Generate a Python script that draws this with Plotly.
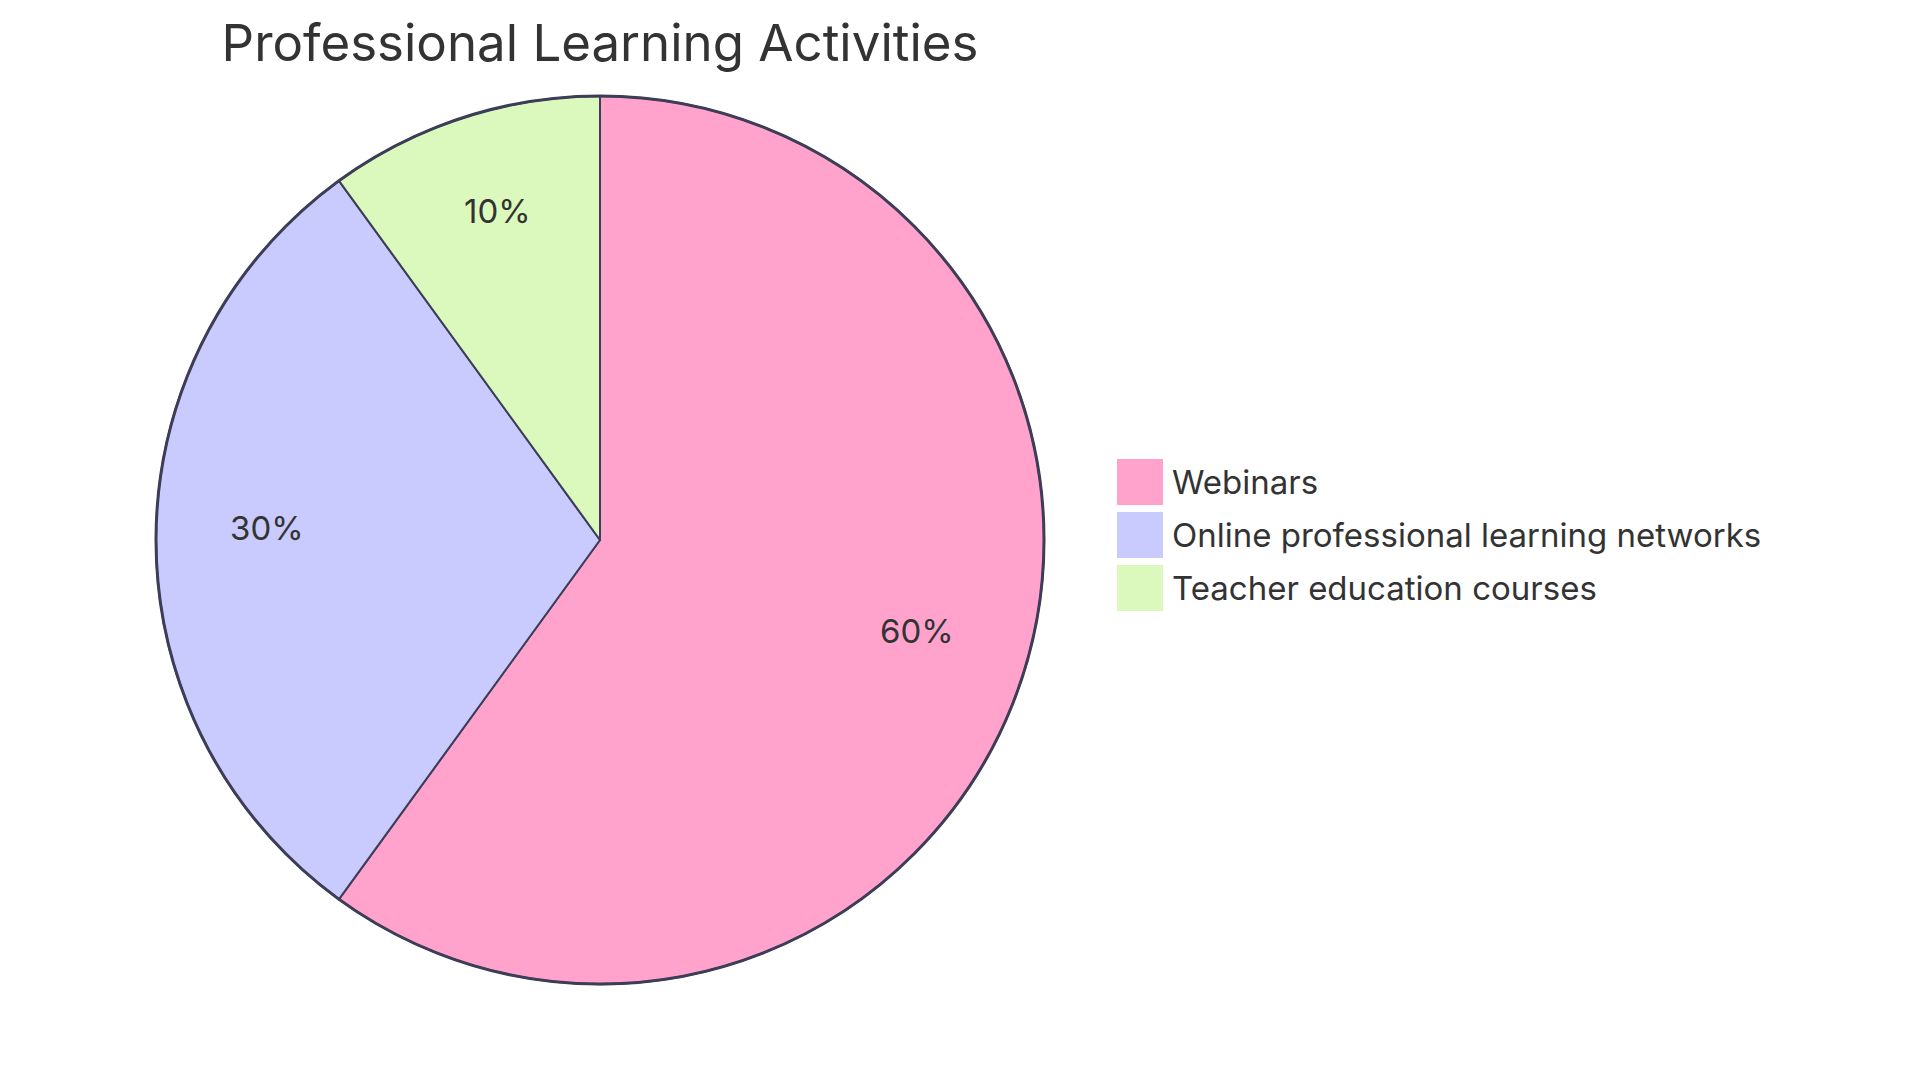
import numpy as np
import plotly.graph_objects as go

# data
labels = ["Webinars", "Online professional learning networks", "Teacher education courses"]
values = [60, 30, 10]
colors = ["#FFA3CD", "#C9CAFE", "#DBF9BC"]

W, H = 1920, 1080
off = 8                                  # page margin of the browser
cx, cy, r = 600 - off, 540 - off, 444    # pie centre / radius in px
stroke = "#3D3D57"
font = "Inter, Roboto, sans-serif"
txt = "#333333"

dom_x = [(cx - r) / W, (cx + r) / W]
dom_y = [(H - cy - r) / H, (H - cy + r) / H]

fig = go.Figure()
fig.add_trace(go.Pie(labels=labels, values=values, sort=False, direction="clockwise",
                     rotation=0, marker=dict(colors=colors, line=dict(color=stroke, width=2)),
                     textinfo="none", hoverinfo="label+percent", showlegend=False,
                     domain=dict(x=dom_x, y=dom_y)))
# outer ring drawn a bit heavier
fig.add_trace(go.Pie(values=[1], labels=[""], sort=False,
                     marker=dict(colors=["rgba(0,0,0,0)"], line=dict(color=stroke, width=3)),
                     textinfo="none", hoverinfo="skip", showlegend=False,
                     domain=dict(x=dom_x, y=dom_y)))

# percentage labels at 0.75 radius on each slice's mid angle (mermaid style)
total = sum(values)
start = 0.0
for v in values:
    mid = np.radians((start + v / 2) / total * 360)
    start += v
    px = cx + 0.75 * r * np.sin(mid)
    py = cy - 0.75 * r * np.cos(mid)
    fig.add_annotation(x=px / W, y=1 - py / H, xref="paper", yref="paper",
                       text=f"{v / total * 100:.0f}%", showarrow=False,
                       xanchor="center", yanchor="middle", yshift=12,
                       font=dict(family=font, size=33, color=txt))

# legend drawn by hand so the swatches can be large
lx, ly, box, gap = 1117 - off, 459 - off, 46, 53
for i, (lab, col) in enumerate(zip(labels, colors)):
    y0 = ly + i * gap
    fig.add_shape(type="rect", xref="paper", yref="paper",
                  x0=lx / W, x1=(lx + box) / W, y0=1 - y0 / H, y1=1 - (y0 + box) / H,
                  fillcolor=col, line=dict(width=0))
    fig.add_annotation(x=(lx + box + 7) / W, y=1 - (y0 + box / 2) / H, xref="paper", yref="paper",
                       text=lab, showarrow=False, xanchor="left", yanchor="middle",
                       font=dict(family=font, size=33, color=txt))

fig.update_layout(
    width=W, height=H,
    margin=dict(l=0, r=0, t=0, b=0),
    paper_bgcolor="white", plot_bgcolor="white",
    title=dict(text="Professional Learning Activities", x=cx / W, xanchor="center",
               xref="paper", yref="container", y=1 - (43 - off) / H, yanchor="middle",
               font=dict(family=font, size=51, color=txt)),
)

fig.write_html("out.html")
